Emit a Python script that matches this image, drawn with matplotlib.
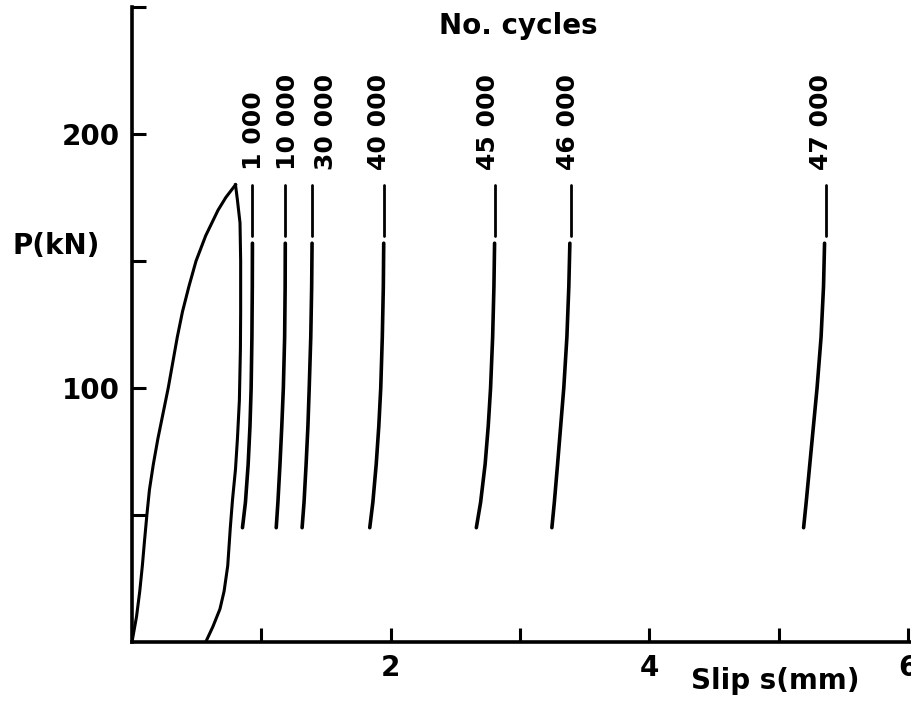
import matplotlib.pyplot as plt

# load (kN) levels used to read the unloading curves off the figure
p_levels = [180, 160, 157, 140, 120, 100, 85, 70, 55, 45]

cycles = ["1 000", "10 000", "30 000", "40 000", "45 000", "46 000", "47 000"]
slip_1000 = [0.931, 0.931, 0.931, 0.930, 0.927, 0.921, 0.912, 0.898, 0.877, 0.854]
slip_10000 = [1.185, 1.185, 1.185, 1.184, 1.180, 1.170, 1.158, 1.144, 1.128, 1.115]
slip_30000 = [1.392, 1.392, 1.392, 1.389, 1.382, 1.370, 1.360, 1.346, 1.330, 1.315]
slip_40000 = [1.946, 1.946, 1.946, 1.943, 1.935, 1.923, 1.908, 1.888, 1.862, 1.838]
slip_45000 = [2.808, 2.808, 2.803, 2.798, 2.788, 2.772, 2.754, 2.730, 2.695, 2.662]
slip_46000 = [3.392, 3.392, 3.385, 3.377, 3.362, 3.338, 3.314, 3.290, 3.265, 3.246]
slip_47000 = [5.362, 5.362, 5.354, 5.346, 5.327, 5.296, 5.268, 5.240, 5.212, 5.192]
cycle_slips = [slip_1000, slip_10000, slip_30000, slip_40000,
               slip_45000, slip_46000, slip_47000]

# first loading and unloading
load_p = [0, 10, 20, 30, 40, 50, 60, 70, 80, 90, 100, 110, 120, 130, 140,
          150, 160, 170, 175, 180]
load_slip = [0.0, 0.035, 0.06, 0.08, 0.097, 0.115, 0.135, 0.165, 0.20, 0.24,
             0.28, 0.315, 0.35, 0.39, 0.44, 0.495, 0.57, 0.665, 0.725, 0.80]
unload_p = [180, 174, 165, 150, 130, 115, 95, 80, 68, 56, 45, 30, 20, 13, 6, 0]
unload_slip = [0.80, 0.815, 0.835, 0.84, 0.84, 0.838, 0.83, 0.815, 0.80, 0.777,
               0.76, 0.74, 0.712, 0.68, 0.625, 0.57]

label_x = [0.946, 1.208, 1.50, 1.908, 2.754, 3.369, 5.323]

plt.rcParams["font.family"] = "DejaVu Sans"
plt.rcParams["font.weight"] = "bold"

fig = plt.figure(figsize=(9.12, 7.02), dpi=100)
ax = fig.add_axes([132 / 912, 60 / 702, 780 / 912, 635 / 702])

ax.plot(load_slip, load_p, color="black", lw=2.2, solid_joinstyle="round")
ax.plot(unload_slip, unload_p, color="black", lw=2.2, solid_joinstyle="round")

for xs in cycle_slips:
    ax.plot(xs[:2], p_levels[:2], color="black", lw=2.0, solid_capstyle="round")
    ax.plot(xs[2:], p_levels[2:], color="black", lw=2.6, solid_capstyle="round",
            solid_joinstyle="round")

for name, lx in zip(cycles, label_x):
    ax.text(lx, 186, name, rotation=90, ha="center", va="bottom",
            fontsize=18, fontweight="bold")

ax.set_xlim(0, 6.03)
ax.set_ylim(0, 250)
ax.set_xticks([1, 2, 3, 4, 5, 6])
ax.set_xticklabels(["", "2", "", "4", "", "6"])
ax.set_yticks([50, 100, 150, 200, 250])
ax.set_yticklabels(["", "100", "", "200", ""])
ax.tick_params(direction="in", length=10, width=2.2, labelsize=20, pad=9)
for side in ("top", "right"):
    ax.spines[side].set_visible(False)
for side in ("left", "bottom"):
    ax.spines[side].set_linewidth(2.6)

fig.text(56 / 912, 1 - 246 / 702, "P(kN)", ha="center", va="center", fontsize=20)
fig.text(518 / 912, 1 - 26 / 702, "No. cycles", ha="center", va="center", fontsize=20)
fig.text(775 / 912, 1 - 681 / 702, "Slip s(mm)", ha="center", va="center", fontsize=20)

fig.savefig("out.png", dpi=100)
